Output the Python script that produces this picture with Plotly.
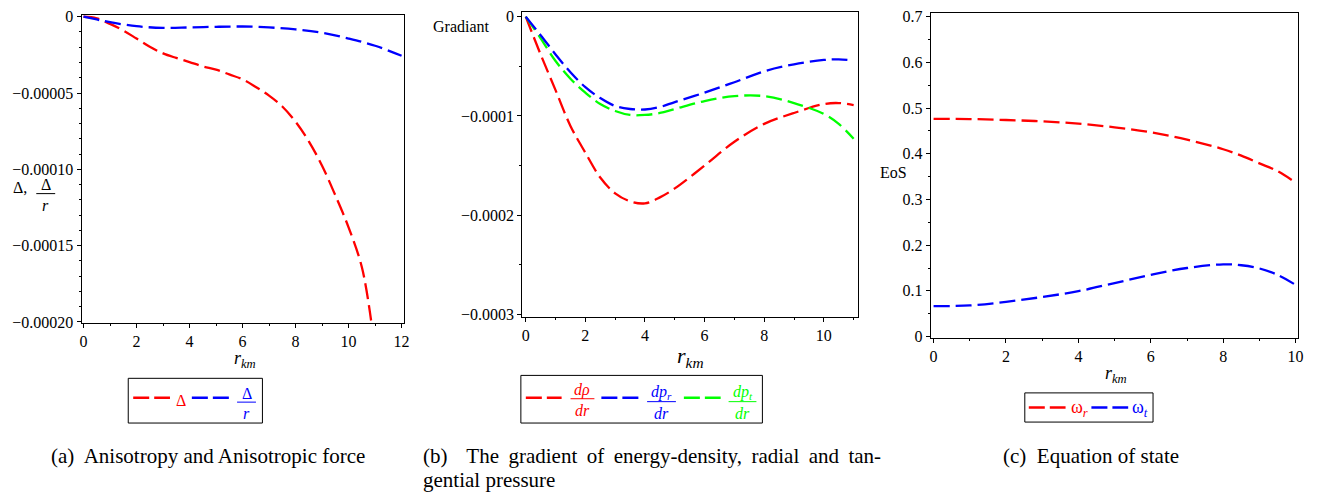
import plotly.graph_objects as go

W, H = 1330, 502

# ---------------- data ----------------
# (a) anisotropy and anisotropic force
r_a = [0, 0.5, 1, 1.5, 2, 2.5, 3, 3.5, 4, 4.5, 5, 5.5, 6, 6.5, 7, 7.5, 8, 8.5, 9, 9.5, 10, 10.5, 10.85]
delta = [0, -1.0e-6, -4.7e-6, -9.0e-6, -14.3e-6, -19.7e-6, -24.0e-6, -27.0e-6, -29.7e-6, -32.5e-6,
         -34.6e-6, -37.8e-6, -41.0e-6, -46.0e-6, -51.7e-6, -58.8e-6, -68.8e-6, -81.6e-6, -97.6e-6,
         -117e-6, -138e-6, -164e-6, -199e-6]
r_a2 = [0, 0.5, 1, 2, 3, 4, 5, 6, 7, 8, 9, 10, 11, 12]
delta_over_r = [0, -1.8e-6, -3.6e-6, -6.2e-6, -7.3e-6, -7.0e-6, -6.6e-6, -6.4e-6, -7.0e-6, -8.3e-6,
                -10.5e-6, -14.3e-6, -19.0e-6, -25.6e-6]

# (b) gradients
r_b = [0, 0.5, 1, 1.5, 2, 2.5, 3, 3.5, 4, 4.5, 5, 6, 7, 8, 9, 10, 10.5, 11]
drho_dr = [0, -38e-6, -74e-6, -110e-6, -137e-6, -162e-6, -178e-6, -186e-6, -188e-6, -182e-6,
           -173e-6, -150e-6, -126e-6, -108e-6, -97e-6, -88e-6, -87e-6, -89e-6]
dpr_dr = [0, -18.6e-6, -38e-6, -56e-6, -71e-6, -82e-6, -90e-6, -93e-6, -93.5e-6, -91e-6,
          -86e-6, -76.5e-6, -66e-6, -55e-6, -48e-6, -43.6e-6, -43e-6, -44e-6]
dpt_dr = [0, -21.8e-6, -44.6e-6, -62.5e-6, -76.5e-6, -88e-6, -95e-6, -99e-6, -99e-6, -97e-6,
          -93e-6, -85e-6, -80e-6, -80e-6, -87e-6, -98e-6, -108e-6, -123e-6]

# (c) equation of state
r_c = [0, 1, 2, 3, 4, 5, 6, 7, 8, 8.5, 9, 9.5, 10]
omega_r = [0.4766, 0.476, 0.474, 0.471, 0.466, 0.458, 0.447, 0.431, 0.41, 0.396, 0.379, 0.362, 0.337]
omega_t = [0.0667, 0.068, 0.0759, 0.0865, 0.0993, 0.117, 0.135, 0.150, 0.158, 0.156, 0.149, 0.135, 0.113]

# tick labels
xt_a = [0, 2, 4, 6, 8, 10, 12]
yt_a = [0, -5e-5, -1e-4, -1.5e-4, -2e-4]
yt_a_text = ["0", "\u22120.00005", "\u22120.00010", "\u22120.00015", "\u22120.00020"]
xt_b = [0, 2, 4, 6, 8, 10]
yt_b = [0, -1e-4, -2e-4, -3e-4]
yt_b_text = ["0", "\u22120.0001", "\u22120.0002", "\u22120.0003"]
xt_c = [0, 2, 4, 6, 8, 10]
yt_c = [0, 0.1, 0.2, 0.3, 0.4, 0.5, 0.6, 0.7]
yt_c_text = ["0", "0.1", "0.2", "0.3", "0.4", "0.5", "0.6", "0.7"]

RED, BLUE, GREEN = "#ff0000", "#0000ff", "#00ff00"
FONT = "Liberation Serif"
DASH = "16px,6px"
LW = 2.3


def fx(x):
    return x / W


def fy(y):
    return 1 - y / H


fig = go.Figure()


def curve(x, y, color, xa, ya):
    fig.add_trace(go.Scatter(
        x=x, y=y, xaxis=xa, yaxis=ya, mode="lines", showlegend=False, hoverinfo="skip",
        line=dict(color=color, width=LW, dash=DASH, shape="spline", smoothing=1.0)))


curve(r_a, delta, RED, "x", "y")
curve(r_a2, delta_over_r, BLUE, "x", "y")
curve(r_b, drho_dr, RED, "x2", "y2")
curve(r_b, dpt_dr, GREEN, "x2", "y2")
curve(r_b, dpr_dr, BLUE, "x2", "y2")
curve(r_c, omega_r, RED, "x3", "y3")
curve(r_c, omega_t, BLUE, "x3", "y3")

common = dict(showline=True, mirror=True, linecolor="black", linewidth=1, showgrid=False,
              zeroline=False, ticks="outside", ticklen=4, tickcolor="black", tickwidth=1,
              tickfont=dict(family=FONT, size=16, color="black"))


def xax(dom, rng, tv, minor):
    d = dict(common)
    d.update(domain=[fx(dom[0]), fx(dom[1])], range=rng, tickmode="array", tickvals=tv,
             ticktext=[str(v) for v in tv],
             minor=dict(dtick=minor, tick0=0, ticks="outside", ticklen=2, tickcolor="black"))
    return d


def yax(dom, rng, tv, tt, minor):
    d = dict(common)
    d.update(domain=[fy(dom[1]), fy(dom[0])], range=rng, tickmode="array", tickvals=tv,
             ticktext=tt,
             minor=dict(dtick=minor, tick0=0, ticks="outside", ticklen=2, tickcolor="black"))
    return d


fig.update_layout(
    width=W, height=H, margin=dict(l=0, r=0, t=0, b=0),
    paper_bgcolor="white", plot_bgcolor="white",
    font=dict(family=FONT, size=16, color="black"),
    xaxis=dict(**xax((80, 404), [-0.075, 12.075], xt_a, 1), anchor="y"),
    yaxis=dict(**yax((9, 326), [-0.0002006, 0.0000013], yt_a, yt_a_text, 1e-5), anchor="x"),
    xaxis2=dict(**xax((523.3, 861), [-0.12, 11.14], xt_b, 1), anchor="y2"),
    yaxis2=dict(**yax((6, 320), [-0.0003026, 0.0000049], yt_b, yt_b_text, 5e-5), anchor="x2"),
    xaxis3=dict(**xax((934.3, 1304), [-0.08, 10.07], xt_c, 1), anchor="y3"),
    yaxis3=dict(**yax((7.3, 341.7), [-0.0036, 0.708], yt_c, yt_c_text, 0.05), anchor="x3"),
)

ann = []
shapes = []


def text(x, y, s, size=16, color="black", xanchor="center"):
    ann.append(dict(x=fx(x), y=fy(y), xref="paper", yref="paper", text=s, showarrow=False,
                    xanchor=xanchor, yanchor="middle",
                    font=dict(family=FONT, size=size, color=color)))


def hline(x0, x1, y, color, width=1, dash=None):
    ln = dict(color=color, width=width)
    if dash:
        ln["dash"] = dash
    shapes.append(dict(type="line", xref="paper", yref="paper", x0=fx(x0), x1=fx(x1),
                       y0=fy(y), y1=fy(y), line=ln))


def box(x0, y0, x1, y1):
    shapes.append(dict(type="rect", xref="paper", yref="paper", x0=fx(x0), x1=fx(x1),
                       y0=fy(y1), y1=fy(y0), line=dict(color="black", width=1)))


def frac(xc, half, ybar, num, den, color, size=16):
    text(xc, ybar - 9, num, size, color)
    hline(xc - half, xc + half, ybar, color, 1)
    text(xc, ybar + 12, den, size, color)


# axis titles
text(18, 187, "\u0394,", 16)
frac(44, 9.5, 193, "\u0394", "<i>r</i>", "black")
text(462, 21, "Gradiant", 16)
text(897, 171, "EoS", 16)
text(244, 364, "<i>r</i><sub><i>km</i></sub>", 18)
text(693, 361, "<i>r</i><sub><i>km</i></sub>", 22)
text(1121, 379, "<i>r</i><sub><i>km</i></sub>", 18)

LDASH = "16px,5px"
# legend (a)
box(127, 383, 262, 429)
hline(132, 169, 403, RED, LW, LDASH)
text(180, 406, "\u0394", 16, RED)
hline(191, 230, 403, BLUE, LW, LDASH)
frac(246, 9.5, 407.5, "\u0394", "<i>r</i>", BLUE)

# legend (b)
box(522, 380, 765, 429)
hline(527, 563, 403, RED, LW, LDASH)
frac(584, 12, 404, "<i>d\u03c1</i>", "<i>dr</i>", RED)
hline(603, 642, 403, BLUE, LW, LDASH)
frac(663.5, 14.5, 407, "<i>dp</i><sub><i>r</i></sub>", "<i>dr</i>", BLUE)
hline(686, 723, 403, GREEN, LW, LDASH)
frac(745, 14, 407, "<i>dp</i><sub><i>t</i></sub>", "<i>dr</i>", GREEN)

# legend (c)
box(1029, 398, 1158, 428)
hline(1033, 1070, 413, RED, LW, LDASH)
text(1084, 414, "\u03c9<sub><i>r</i></sub>", 18, RED)
hline(1096, 1133, 413, BLUE, LW, LDASH)
text(1145, 414, "\u03c9<sub><i>t</i></sub>", 18, BLUE)

# captions
T = "\u2009"
text(47, 463, "(a)\u00a0 Anisotropy and Anisotropic force", 21, xanchor="left")
text(422, 463, "(b)\u00a0\u00a0\u2006 The" + T + " gradient" + T + " of" + T + " energy-density," + T +
     " radial" + T + " and" + T + " tan-", 21, xanchor="left")
text(422, 488, "gential pressure", 21, xanchor="left")
text(1005, 463, "(c)\u00a0 Equation of state", 21, xanchor="left")

fig.update_layout(annotations=ann, shapes=shapes)
fig.write_html("out.html")
